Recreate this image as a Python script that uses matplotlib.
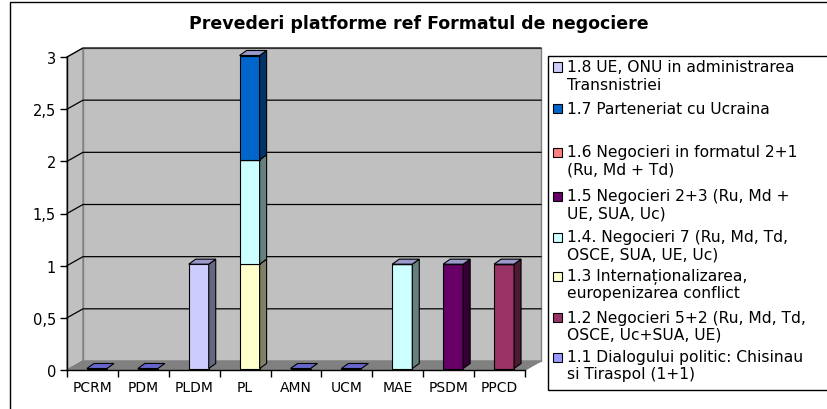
import matplotlib.pyplot as plt
import numpy as np
from matplotlib.patches import Polygon, Rectangle
from matplotlib.colors import to_rgb

# data
categories = ['PCRM', 'PDM', 'PLDM', 'PL', 'AMN', 'UCM', 'MAE', 'PSDM', 'PPCD']
series_names = [
    '1.1 Dialogului politic: Chisinau\nsi Tiraspol (1+1)',
    '1.2 Negocieri 5+2 (Ru, Md, Td,\nOSCE, Uc+SUA, UE)',
    '1.3 Internaționalizarea,\neuropenizarea conflict',
    '1.4. Negocieri 7 (Ru, Md, Td,\nOSCE, SUA, UE, Uc)',
    '1.5 Negocieri 2+3 (Ru, Md +\nUE, SUA, Uc)',
    '1.6 Negocieri in formatul 2+1\n(Ru, Md + Td)',
    '1.7 Parteneriat cu Ucraina',
    '1.8 UE, ONU in administrarea\nTransnistriei',
]
s1_1 = [0, 0, 0, 0, 0, 0, 0, 0, 0]
s1_2 = [0, 0, 0, 0, 0, 0, 0, 0, 1]
s1_3 = [0, 0, 0, 1, 0, 0, 0, 0, 0]
s1_4 = [0, 0, 0, 1, 0, 0, 1, 0, 0]
s1_5 = [0, 0, 0, 0, 0, 0, 0, 1, 0]
s1_6 = [0, 0, 0, 0, 0, 0, 0, 0, 0]
s1_7 = [0, 0, 0, 1, 0, 0, 0, 0, 0]
s1_8 = [0, 0, 1, 0, 0, 0, 0, 0, 0]
series_values = [s1_1, s1_2, s1_3, s1_4, s1_5, s1_6, s1_7, s1_8]
series_colors = ['#9999FF', '#993366', '#FFFFCC', '#CCFFFF',
                 '#660066', '#FF8080', '#0066CC', '#CCCCFF']

plt.rcParams['font.family'] = ['DejaVu Sans']

W, H = 828, 410
fig = plt.figure(figsize=(W / 100, H / 100), dpi=100)
fig.patch.set_facecolor('white')

# axes box in pixels (front plane)
ax_l, ax_r, ax_top, ax_bot = 67, 525, 58, 371
ax = fig.add_axes([ax_l / W, (H - ax_bot) / H, (ax_r - ax_l) / W, (ax_bot - ax_top) / H])
n = len(categories)
ymax = 3
ax.set_xlim(0, n)
ax.set_ylim(0, ymax)
ax.patch.set_visible(False)

# pixel -> data
px = n / (ax_r - ax_l)
py = ymax / (ax_bot - ax_top)
wdx, wdy = 16 * px, 9 * py      # wall depth
bdx, bdy = 7 * px, 5 * py       # bar depth
bsx, bsy = 4.5 * px, 1.5 * py   # bar front shift
bw = 20 * px


def poly(pts, fc, ec, lw=0.8, z=1):
    p = Polygon(pts, closed=True, facecolor=fc, edgecolor=ec, linewidth=lw,
                zorder=z, clip_on=False)
    ax.add_patch(p)


def dark(c, f=0.5):
    return tuple(v * f for v in to_rgb(c))


# walls and floor
poly([(wdx, wdy), (n + wdx, wdy), (n + wdx, ymax + wdy), (wdx, ymax + wdy)], '#C0C0C0', '#808080', 1, 0)
poly([(0, 0), (wdx, wdy), (wdx, ymax + wdy), (0, ymax)], '#C0C0C0', '#808080', 1, 0)
poly([(0, 0), (n, 0), (n + wdx, wdy), (wdx, wdy)], '#808080', '#808080', 1, 0.5)

yticks = np.arange(0, ymax + 0.01, 0.5)
for y in yticks[1:]:
    ax.plot([0, wdx, n + wdx], [y, y + wdy, y + wdy], color='black', lw=0.9,
            zorder=0.3, clip_on=False)

# bars
x = np.arange(n) + 0.5
bottom = np.zeros(n)
for vals, col in zip(series_values, series_colors):
    vals = np.array(vals, dtype=float)
    bars = ax.bar(x - bw / 2 + bsx, vals, bw, bottom=bottom + bsy, align='edge',
                  color=col, edgecolor='black', linewidth=0.8, zorder=3)
    for b in bars:
        b.set_clip_on(False)
    for i in range(n):
        if vals[i] > 0:
            xr = x[i] + bw / 2 + bsx
            b0 = bottom[i] + bsy
            poly([(xr, b0), (xr + bdx, b0 + bdy), (xr + bdx, b0 + vals[i] + bdy), (xr, b0 + vals[i])],
                 dark(col), 'black', 0.8, 3)
    bottom += vals

for i in range(n):
    xl = x[i] - bw / 2 + bsx
    xr = xl + bw
    t = bottom[i] + bsy
    fc = '#9999CC' if bottom[i] > 0 else '#6666CC'
    poly([(xl, t), (xr, t), (xr + bdx, t + bdy), (xl + bdx, t + bdy)], fc, 'black', 0.8, 4)

# axes
for s in ['top', 'right']:
    ax.spines[s].set_visible(False)
for s in ['left', 'bottom']:
    ax.spines[s].set_color('black')
    ax.spines[s].set_linewidth(1)
    ax.spines[s].set_zorder(5)

ax.set_yticks(yticks)
ax.set_yticklabels([('%g' % v).replace('.', ',') for v in yticks], fontsize=10.5)
ax.set_xticks(np.arange(n + 1))
ax.set_xticklabels([''] * (n + 1))
ax.set_xticks(x, minor=True)
ax.set_xticklabels(categories, minor=True, fontsize=10)
ax.tick_params(axis='x', which='major', length=5, width=1, direction='out')
ax.tick_params(axis='x', which='minor', length=0, pad=7)
ax.tick_params(axis='y', length=5, width=1, pad=3)

# title
fig.text(419 / W, 1 - 24 / H, 'Prevederi platforme ref Formatul de negociere',
         ha='center', va='center', fontsize=12.5, fontweight='bold')

# chart border
fig.patches.append(Rectangle((10 / W, -0.1), 1.2, 1 - 3 / H + 0.1, transform=fig.transFigure,
                             fill=False, edgecolor='black', linewidth=1))
# legend box
fig.patches.append(Rectangle((548 / W, 1 - 391 / H), 1.2, (391 - 57) / H, transform=fig.transFigure,
                             fill=False, edgecolor='black', linewidth=1))

legend_y = [358, 318, 277, 238, 197, 153, 109, 68]
for name, col, ly in zip(series_names, series_colors, legend_y):
    fig.patches.append(Rectangle((553 / W, 1 - (ly + 4.5) / H), 9 / W, 9 / H,
                                 transform=fig.transFigure, facecolor=col,
                                 edgecolor='black', linewidth=0.8))
    lines = name.split('\n')
    for k, line in enumerate(lines):
        fig.text(567 / W, 1 - (ly + 17 * k) / H, line, ha='left', va='center', fontsize=11.2)

plt.savefig('out.png', dpi=100)
